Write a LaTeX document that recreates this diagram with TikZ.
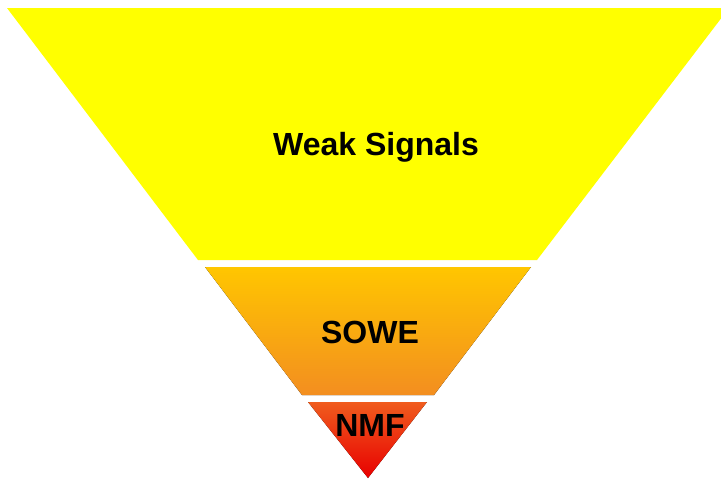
\documentclass[tikz,border=0pt]{standalone}
\usepackage{fontspec}
\setmainfont{Liberation Sans}
\definecolor{funnelYellow}{RGB}{255,255,0}
\definecolor{soweTop}{RGB}{255,198,0}
\definecolor{soweBottom}{RGB}{243,142,32}
\definecolor{nmfTop}{RGB}{240,92,30}
\definecolor{nmfBottom}{RGB}{232,0,0}
\begin{document}
\begin{tikzpicture}[x=1pt,y=-1pt,
  label/.style={font=\fontsize{32}{37}\selectfont\bfseries, text=black, inner sep=0pt}]
\useasboundingbox (0,0) rectangle (721,479);
% top band of the funnel
\fill[funnelYellow] (7,8) -- (729,8) -- (537,260) -- (198,260) -- cycle;
% middle band
\fill[top color=soweTop, bottom color=soweBottom] (205,267) -- (531,267) -- (434,395) -- (302,395) -- cycle;
% bottom tip
\fill[top color=nmfTop, bottom color=nmfBottom] (308,402) -- (427,402) -- (368,478) -- cycle;
\node[label] (weak) at (376,147) {Weak Signals};
\node[label] (sowe) at (370,332) {SOWE};
\node[label] (nmf) at (370,425) {NMF};
\end{tikzpicture}
\end{document}
